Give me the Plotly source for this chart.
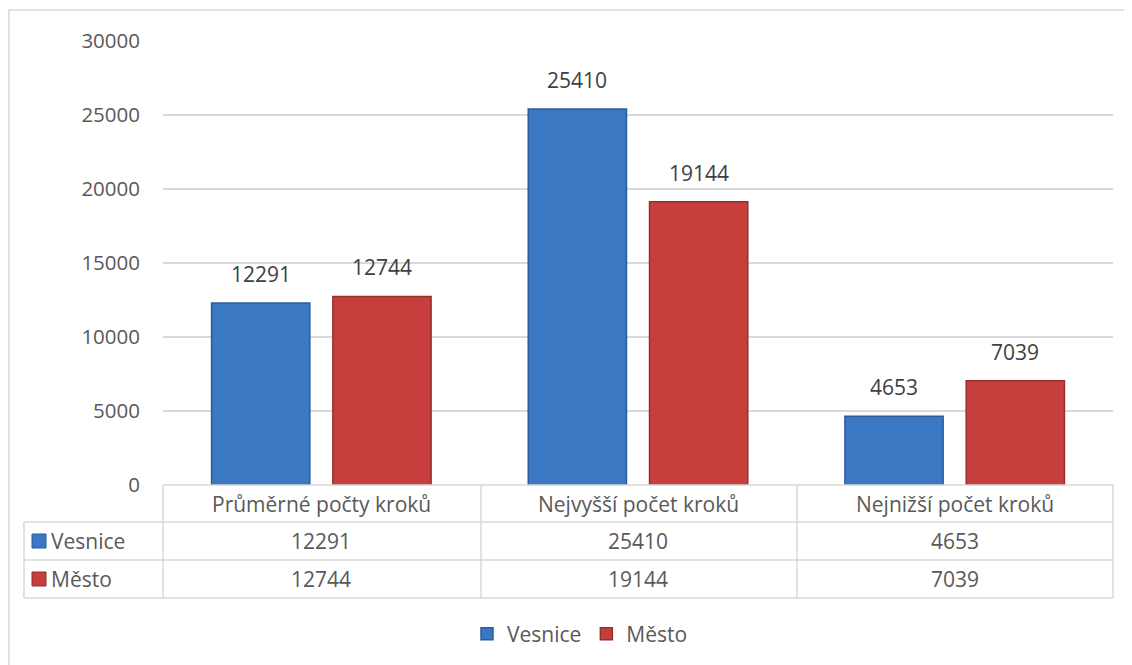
import plotly.graph_objects as go

# data
categories = ["Průměrné počty kroků", "Nejvyšší počet kroků", "Nejnižší počet kroků"]
series_names = ["Vesnice", "Město"]
vesnice = [12291, 25410, 4653]
mesto = [12744, 19144, 7039]
colors = ["#3B78C4", "#C73F3C"]
edge_colors = ["#2B5C99", "#93302D"]

# the page body has an 8px margin, so the figure is drawn 8px smaller
OFF = 8
W, H = 1132 - OFF, 665 - OFF
TXT = "#595959"
GRID = "#D9D9D9"
FONT = "Open Sans"
FS = 21


def px(x):
    return (x - OFF) / W


def py(y):
    return 1 - (y - OFF) / H


fig = go.Figure()
for name, vals, c, ec in zip(series_names, [vesnice, mesto], colors, edge_colors):
    fig.add_trace(go.Bar(
        x=categories, y=vals, name=name,
        marker=dict(color=c, line=dict(color=ec, width=1.5)),
        cliponaxis=False,
    ))

shapes = []
annotations = []

# data labels above the bars
slot = (1 - 0.234) * (950 / 3) / 2
for k, vals in enumerate([vesnice, mesto]):
    shift = (k - 0.5) * slot
    for cat, v in zip(categories, vals):
        annotations.append(dict(x=cat, xref="x", y=v, yref="y", text=str(v),
                                showarrow=False, xshift=shift, yshift=29,
                                xanchor="center", yanchor="middle",
                                font=dict(color="#404040", size=FS, family=FONT)))

# outer chart border
shapes.append(dict(type="rect", xref="paper", yref="paper",
                   x0=px(9), x1=px(1131), y0=py(675), y1=py(10),
                   line=dict(color=GRID, width=1.5)))

# data table grid
x_cols = [163, 481, 797, 1113]
row_y = [485, 522, 560, 598]
for xc in x_cols:
    shapes.append(dict(type="line", xref="paper", yref="paper",
                       x0=px(xc), x1=px(xc), y0=py(485), y1=py(598),
                       line=dict(color=GRID, width=1.5)))
shapes.append(dict(type="line", xref="paper", yref="paper",
                   x0=px(24), x1=px(24), y0=py(522), y1=py(598),
                   line=dict(color=GRID, width=1.5)))
for i, yr in enumerate(row_y):
    x0 = 163 if i == 0 else 24
    shapes.append(dict(type="line", xref="paper", yref="paper",
                       x0=px(x0), x1=px(1113), y0=py(yr), y1=py(yr),
                       line=dict(color=GRID, width=1.5)))

# header row: category names
for cat in categories:
    annotations.append(dict(x=cat, xref="x", y=py(503.5), yref="paper",
                            text=cat, showarrow=False,
                            xanchor="center", yanchor="middle",
                            font=dict(color=TXT, size=FS, family=FONT)))

# value rows
for r, (name, vals, c) in enumerate(zip(series_names, [vesnice, mesto], colors)):
    yc = (row_y[r + 1] + row_y[r + 2]) / 2
    for cat, v in zip(categories, vals):
        annotations.append(dict(x=cat, xref="x", y=py(yc), yref="paper",
                                text=str(v), showarrow=False,
                                xanchor="center", yanchor="middle",
                                font=dict(color=TXT, size=FS, family=FONT)))
    # legend key + name
    shapes.append(dict(type="rect", xref="paper", yref="paper",
                       x0=px(32), x1=px(46), y0=py(yc + 7), y1=py(yc - 7),
                       fillcolor=c, line=dict(color=edge_colors[r], width=1)))
    annotations.append(dict(x=px(49), xref="paper", y=py(yc), yref="paper",
                            text=name, showarrow=False,
                            xanchor="left", yanchor="middle",
                            font=dict(color=TXT, size=FS, family=FONT)))

fig.update_layout(
    width=W, height=H,
    margin=dict(l=0, r=0, t=0, b=0, pad=0, autoexpand=False),
    paper_bgcolor="white", plot_bgcolor="white",
    font=dict(family=FONT, color=TXT, size=FS),
    barmode="group", bargap=0.234, bargroupgap=0.19,
    xaxis=dict(domain=[px(163), px(1113)], showticklabels=False,
               showline=False, ticks="", automargin=False),
    yaxis=dict(domain=[py(485), py(41)], range=[0, 30000], dtick=5000,
               tickformat="d", automargin=False,
               showgrid=True, gridcolor=GRID, gridwidth=1.5,
               zeroline=False, showline=False,
               tickfont=dict(color=TXT, size=20.5, family=FONT),
               ticklabelstandoff=22),
    legend=dict(orientation="h", x=px(580), xanchor="center", y=py(634),
                yanchor="middle", font=dict(color=TXT, size=FS, family=FONT),
                itemwidth=30, traceorder="normal"),
    shapes=shapes, annotations=annotations,
)

fig.write_html("out.html")
